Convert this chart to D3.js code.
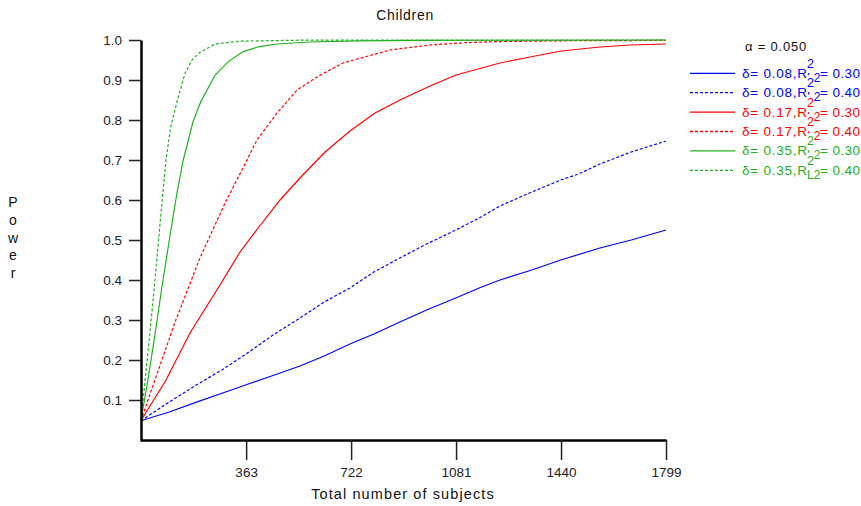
<!DOCTYPE html>
<html><head><meta charset="utf-8">
<script src="https://cdn.jsdelivr.net/npm/d3@7"></script>
<style>
html,body{margin:0;padding:0;background:#fff;}
svg{display:block;font-family:"Liberation Sans",Arial,sans-serif;}
</style></head>
<body><svg id="c" width="861" height="506"></svg>
<script>
// ---- data ----
const xTicks = [363, 722, 1081, 1440, 1799];
const yTicks = [0.1, 0.2, 0.3, 0.4, 0.5, 0.6, 0.7, 0.8, 0.9, 1.0];

const nBlueSolid = [3, 100, 198, 300, 363, 450, 547, 630, 718, 800, 889, 980, 1080, 1160, 1231, 1340, 1439, 1573, 1680, 1799];
const pBlueSolid = [0.048, 0.07, 0.096, 0.122, 0.138, 0.16, 0.185, 0.21, 0.24, 0.265, 0.295, 0.325, 0.355, 0.38, 0.40, 0.425, 0.45, 0.48, 0.50, 0.525];

const nBlueDash = [3, 100, 198, 280, 363, 450, 547, 630, 718, 800, 889, 980, 1080, 1160, 1231, 1340, 1439, 1500, 1573, 1680, 1799];
const pBlueDash = [0.048, 0.095, 0.14, 0.175, 0.215, 0.26, 0.305, 0.345, 0.38, 0.42, 0.455, 0.49, 0.525, 0.555, 0.585, 0.62, 0.65, 0.665, 0.69, 0.72, 0.7475];

const nRedSolid = [3, 89, 171, 263, 342, 404, 479, 547, 633, 718, 804, 889, 992, 1081, 1231, 1334, 1440, 1573, 1676, 1799];
const pRedSolid = [0.048, 0.15, 0.2675, 0.375, 0.47, 0.53, 0.60, 0.655, 0.72, 0.7725, 0.8175, 0.85, 0.885, 0.9125, 0.9425, 0.9575, 0.9725, 0.9825, 0.9875, 0.99];

const nRedDash = [3, 51, 120, 205, 291, 366, 400, 469, 537, 605, 694, 855, 992, 1105, 1221, 1436, 1799];
const pRedDash = [0.048, 0.15, 0.295, 0.455, 0.5925, 0.70, 0.75, 0.8175, 0.875, 0.9075, 0.9425, 0.975, 0.9875, 0.993, 0.996, 0.998, 0.999];

const nGreenSolid = [3, 27, 51, 75, 103, 127, 148, 181, 208, 257, 302, 353, 405, 468, 581, 752, 958, 1799];
const pGreenSolid = [0.048, 0.15, 0.2625, 0.3825, 0.5125, 0.62, 0.70, 0.795, 0.846, 0.9125, 0.946, 0.971, 0.983, 0.99, 0.995, 0.998, 0.999, 1.0];

const nGreenDash = [3, 17, 34, 51, 68, 89, 105, 130, 154, 178, 203, 257, 342, 547, 1799];
const pGreenDash = [0.048, 0.145, 0.27, 0.397, 0.537, 0.70, 0.783, 0.855, 0.917, 0.95, 0.968, 0.99, 0.997, 0.9995, 1.0];

const deltas = ["0.08", "0.08", "0.17", "0.17", "0.35", "0.35"];
const r2s = ["0.30", "0.40", "0.30", "0.40", "0.30", "0.40"];
const colors = ["#0000ff", "#0000ff", "#ff0000", "#ff0000", "#22b022", "#22b022"];
const dashed = [false, true, false, true, false, true];
const seriesN = [nBlueSolid, nBlueDash, nRedSolid, nRedDash, nGreenSolid, nGreenDash];
const seriesP = [pBlueSolid, pBlueDash, pRedSolid, pRedDash, pGreenSolid, pGreenDash];

const titleText = "Children";
const xLabel = "Total number of subjects";
const yLabel = "Power";
const alphaText = "\u03b1 = 0.050";

// ---- drawing ----
const svg = d3.select("#c");
const x = d3.scaleLinear().domain([0, 1799]).range([140, 666]);
const y = d3.scaleLinear().domain([0, 1]).range([440, 40]);

// curves
const line = d3.line().x(d => x(d[0])).y(d => y(d[1]));
seriesN.forEach((ns, i) => {
  const pts = ns.map((n, j) => [n, seriesP[i][j]]);
  svg.append("path").attr("d", line(pts))
    .attr("fill", "none").attr("stroke", colors[i]).attr("stroke-width", 1.2)
    .attr("stroke-dasharray", dashed[i] ? "3,2" : null);
});

// axes
const gy = svg.append("g").attr("transform", "translate(141,0)")
  .call(d3.axisLeft(y).tickValues(yTicks).tickSize(12).tickSizeOuter(0).tickPadding(7).tickFormat(d3.format(".1f")));
const gx = svg.append("g").attr("transform", "translate(0,440)")
  .call(d3.axisBottom(x).tickValues(xTicks).tickSize(20).tickSizeOuter(0).tickPadding(7).tickFormat(d3.format("d")));
[gx, gy].forEach(g => {
  g.select(".domain").attr("stroke", "#000").attr("stroke-width", 2.5);
  g.selectAll(".tick line").attr("stroke", "#222").attr("stroke-width", 1.5);
  g.selectAll(".tick text").attr("fill", "#222").style("font-size", "13.5px")
    .style("font-family", '"Liberation Sans", Arial, sans-serif');
});

// title & labels
svg.append("text").attr("x", 405).attr("y", 20).attr("text-anchor", "middle")
  .style("font-size", "14px").style("letter-spacing", "0.7px").attr("fill", "#111").text(titleText);
svg.append("text").attr("x", 403).attr("y", 499).attr("text-anchor", "middle")
  .style("font-size", "14.5px").style("letter-spacing", "1.1px").attr("fill", "#111").text(xLabel);
const yl = svg.append("text").attr("text-anchor", "middle").style("font-size", "14px").attr("fill", "#111");
yLabel.split("").forEach((ch, i) => {
  yl.append("tspan").attr("x", 13).attr("y", 207 + i * 17.8).text(ch);
});

// legend
svg.append("text").attr("x", 776).attr("y", 51).attr("text-anchor", "middle")
  .style("font-size", "13px").style("letter-spacing", "0.8px").attr("fill", "#111").text(alphaText);

const lx0 = 690, lx1 = 735, tx = 742, xr = 807;
deltas.forEach((dl, i) => {
  const ly = 73.3 + i * 19.4;
  const b = ly + 4.5;
  svg.append("line").attr("x1", lx0).attr("x2", lx1).attr("y1", ly).attr("y2", ly)
    .attr("stroke", colors[i]).attr("stroke-width", 1.3)
    .attr("stroke-dasharray", dashed[i] ? "3,2" : null);
  svg.append("text").attr("x", tx).attr("y", b).style("font-size", "13.5px")
    .attr("textLength", xr - tx).attr("lengthAdjust", "spacing")
    .attr("fill", colors[i]).text("\u03b4= " + dl + ",R");
  svg.append("rect").attr("x", xr).attr("y", b - 22).attr("width", 7).attr("height", 13).attr("fill", "#fff");
  svg.append("text").attr("x", xr).attr("y", b - 10).style("font-size", "12.5px")
    .attr("fill", colors[i]).text("2");
  svg.append("text").attr("x", xr).attr("y", b + 4).style("font-size", "12px")
    .attr("fill", colors[i]).text("L2");
  svg.append("text").attr("x", 860).attr("y", b).attr("text-anchor", "end").style("font-size", "13.5px")
    .attr("textLength", 40).attr("lengthAdjust", "spacing")
    .attr("fill", colors[i]).text("= " + r2s[i]);
});
</script>
</body></html>
